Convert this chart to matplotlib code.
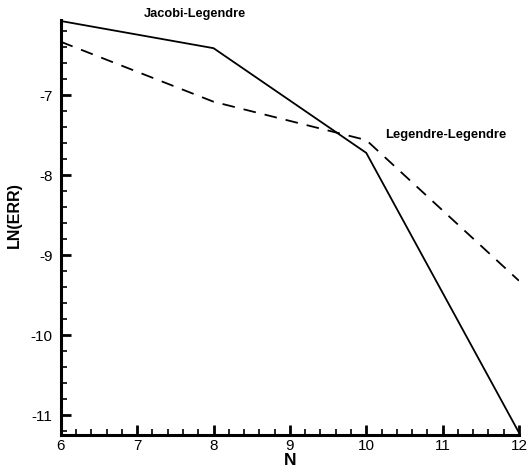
import matplotlib
matplotlib.use("Agg")
import matplotlib.pyplot as plt
from matplotlib.ticker import MultipleLocator, FuncFormatter

# data
n_vals = [6, 8, 10, 12]
jacobi_legendre = [-6.07, -6.41, -7.72, -11.22]
legendre_legendre = [-6.33, -7.08, -7.56, -9.32]

plt.rcParams['font.family'] = ['Liberation Sans', 'DejaVu Sans']

fig = plt.figure(figsize=(5.29, 4.70), dpi=100)
ax = fig.add_axes([0.115, 0.0745, 0.866, 0.8825])

ax.plot(n_vals, jacobi_legendre, color='black', lw=1.3, solid_joinstyle='miter')
ax.plot(n_vals, legendre_legendre, color='black', lw=1.3, dashes=(7, 5))

ax.set_xlim(6, 12)
ax.set_ylim(-11.25, -6.06)

for side in ['top', 'right']:
    ax.spines[side].set_visible(False)
for side in ['left', 'bottom']:
    ax.spines[side].set_linewidth(2.2)

ax.xaxis.set_major_locator(MultipleLocator(1))
ax.xaxis.set_minor_locator(MultipleLocator(0.2))
ax.yaxis.set_major_locator(MultipleLocator(1))
ax.yaxis.set_minor_locator(MultipleLocator(0.2))
ax.yaxis.set_major_formatter(FuncFormatter(lambda v, p: '%d' % v))
ax.tick_params(which='major', direction='in', length=7, width=2, labelsize=11)
ax.tick_params(which='minor', direction='in', length=4, width=1.2)
ax.tick_params(axis='x', pad=3)
ax.tick_params(axis='y', pad=6)

ax.set_xlabel('N', fontsize=12.5, fontweight='bold', labelpad=0)
ax.set_ylabel('LN(ERR)', fontsize=11.5, fontweight='bold', labelpad=8)
ax.yaxis.set_label_coords(-0.085, 0.53)

ax.text(7.76, -6.06, 'Jacobi-Legendre', fontsize=9.2, fontweight='bold',
        ha='center', va='bottom')
ax.text(10.25, -7.5, 'Legendre-Legendre', fontsize=9.4, fontweight='bold',
        ha='left', va='center')

fig.savefig('out.png', dpi=100)
